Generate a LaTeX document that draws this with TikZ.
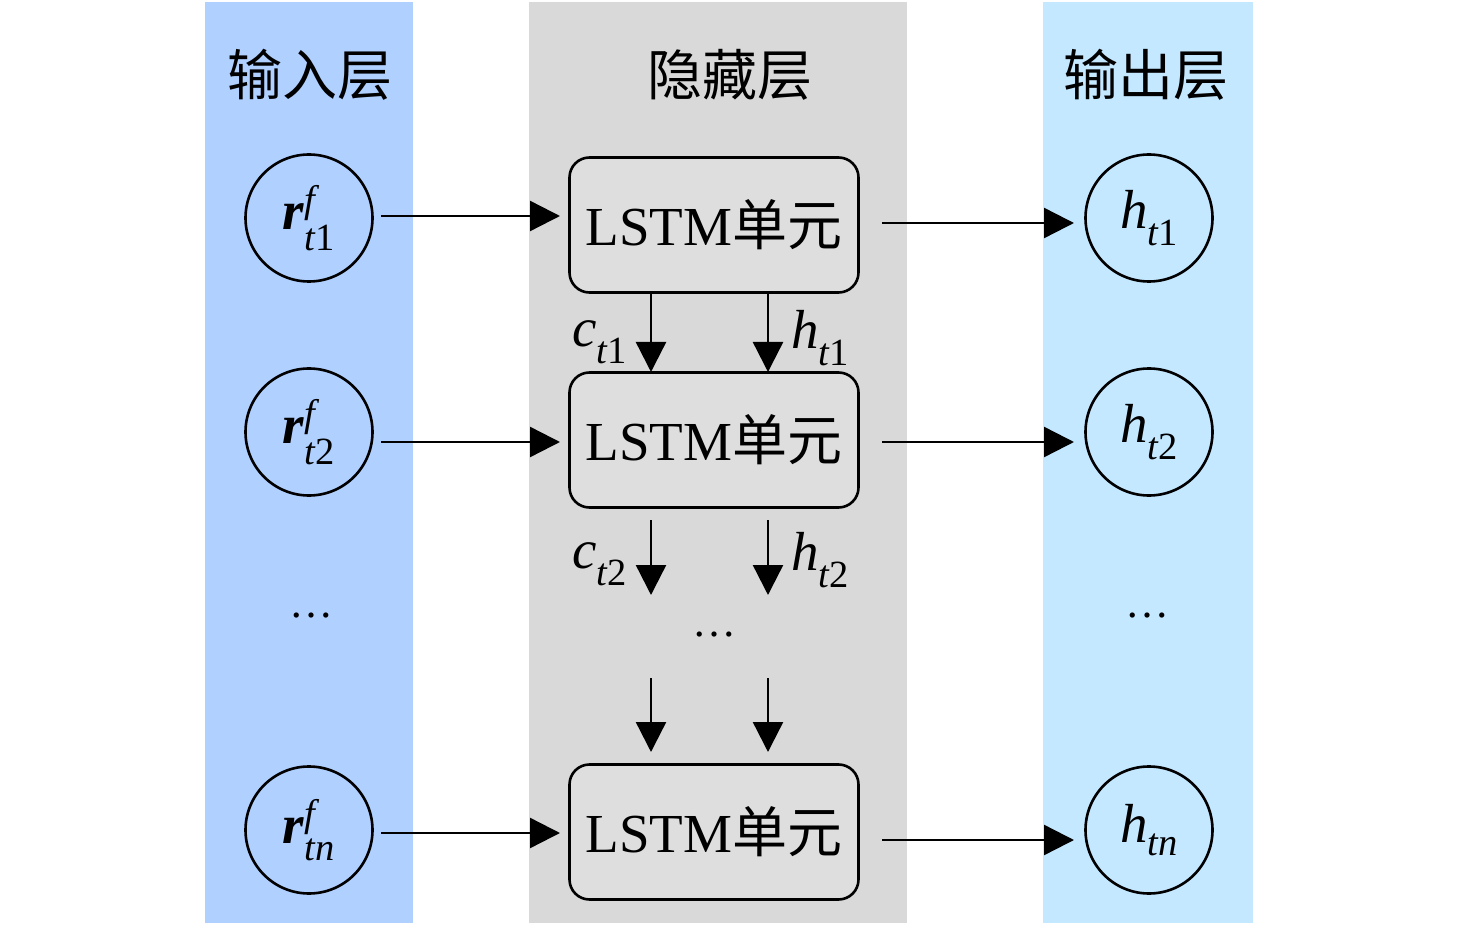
\documentclass[tikz,border=0pt]{standalone}
\usepackage{amsmath}
\usepackage{fontspec}
\setmainfont{Liberation Serif}
\newfontfamily\cjk{Noto Sans CJK SC}
\usetikzlibrary{arrows.meta}
\definecolor{inblue}{RGB}{176,208,255}
\definecolor{midgray}{RGB}{217,217,217}
\definecolor{outblue}{RGB}{196,232,255}
\definecolor{boxgray}{RGB}{222,222,222}
\newcommand{\bigfont}{\fontsize{55}{60}\selectfont}
\newcommand{\vr}{\textbf{\textit{r}}}
\newcommand{\vi}[1]{\text{\itshape #1}}
\newcommand{\vu}[1]{\text{#1}}
\begin{document}
\begin{tikzpicture}[x=1pt,y=-1pt,
  neuron/.style={circle,draw=black,line width=2.6pt,minimum size=127pt,inner sep=0pt,font=\bigfont},
  cellbox/.style={draw=black,line width=2.6pt,rounded corners=20pt,fill=boxgray,minimum width=289pt,minimum height=135pt,inner sep=0pt,font=\bigfont},
  flow/.style={line width=2.4pt,-{Triangle[length=30pt,width=30pt]}},
  head/.style={font=\bigfont\cjk},
  lbl/.style={font=\bigfont,inner sep=0pt},
  dots/.style={font=\fontsize{44}{50}\selectfont,inner sep=0pt}]
\useasboundingbox (0,0) rectangle (1476,925);
\fill[white] (0,0) rectangle (1476,925);
\fill[inblue] (205,2) rectangle (413,923);
\fill[midgray] (529,2) rectangle (907,923);
\fill[outblue] (1043,2) rectangle (1253,923);
\node[head] (hin) at (310,75) {输入层};
\node[head] (hhid) at (730,75) {隐藏层};
\node[head] (hout) at (1146,75) {输出层};
% input neurons
\node[neuron] (i1) at (309,218) {$\vr^{\vi{f}}_{\vi{t}\vu{1}}$};
\node[neuron] (i2) at (309,432) {$\vr^{\vi{f}}_{\vi{t}\vu{2}}$};
\node[neuron] (in) at (309,830) {$\vr^{\vi{f}}_{\vi{tn}}$};
\node[dots] (idots) at (311,616) {…};
% LSTM cells
\node[cellbox] (l1) at (714,225) {LSTM{\cjk 单元}};
\node[cellbox] (l2) at (714,440) {LSTM{\cjk 单元}};
\node[cellbox] (ln) at (714,832) {LSTM{\cjk 单元}};
\node[dots] (mdots) at (714,635) {…};
% output neurons
\node[neuron] (o1) at (1149,218) {$\vi{h}_{\vi{t}\vu{1}}$};
\node[neuron] (o2) at (1149,432) {$\vi{h}_{\vi{t}\vu{2}}$};
\node[neuron] (on) at (1149,830) {$\vi{h}_{\vi{tn}}$};
\node[dots] (odots) at (1147,616) {…};
% input -> cell
\coordinate (a1s) at (381,216); \coordinate (a1e) at (560,216);
\coordinate (a2s) at (381,442); \coordinate (a2e) at (560,442);
\coordinate (a3s) at (381,833); \coordinate (a3e) at (560,833);
\draw[flow] (a1s) -- (a1e);
\draw[flow] (a2s) -- (a2e);
\draw[flow] (a3s) -- (a3e);
% cell -> output
\coordinate (b1s) at (882,223); \coordinate (b1e) at (1074,223);
\coordinate (b2s) at (882,442); \coordinate (b2e) at (1074,442);
\coordinate (b3s) at (882,840); \coordinate (b3e) at (1074,840);
\draw[flow] (b1s) -- (b1e);
\draw[flow] (b2s) -- (b2e);
\draw[flow] (b3s) -- (b3e);
% vertical arrows
\coordinate (c1s) at (651,293); \coordinate (c1e) at (651,372);
\coordinate (h1s) at (768,293); \coordinate (h1e) at (768,372);
\coordinate (c2s) at (651,520); \coordinate (c2e) at (651,595);
\coordinate (h2s) at (768,520); \coordinate (h2e) at (768,595);
\coordinate (c3s) at (651,678); \coordinate (c3e) at (651,752);
\coordinate (h3s) at (768,678); \coordinate (h3e) at (768,752);
\foreach \s/\e in {c1s/c1e,h1s/h1e,c2s/c2e,h2s/h2e,c3s/c3e,h3s/h3e}
  \draw[flow] (\s) -- (\e);
\node[lbl] (lc1) at (600,342) {$\vi{c}_{\vi{t}\vu{1}}$};
\node[lbl] (lh1) at (820,338) {$\vi{h}_{\vi{t}\vu{1}}$};
\node[lbl] (lc2) at (600,564) {$\vi{c}_{\vi{t}\vu{2}}$};
\node[lbl] (lh2) at (820,560) {$\vi{h}_{\vi{t}\vu{2}}$};
\end{tikzpicture}
\end{document}
